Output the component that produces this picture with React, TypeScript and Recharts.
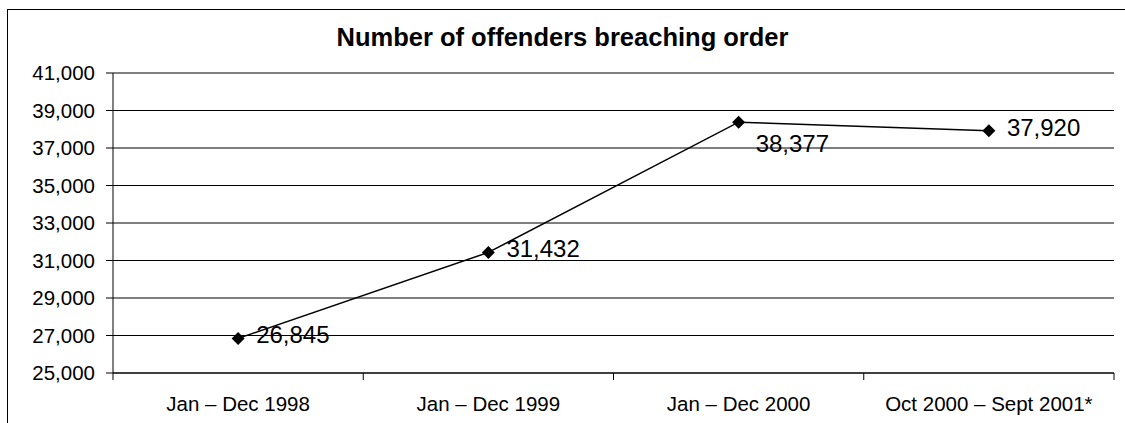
import React from 'react';
import {
  LineChart,
  Line,
  XAxis,
  YAxis,
  CartesianGrid,
  ReferenceLine,
  LabelList,
} from 'recharts';

const periods = ['Jan – Dec 1998', 'Jan – Dec 1999', 'Jan – Dec 2000', 'Oct 2000 – Sept 2001*'];
const offenders = [26845, 31432, 38377, 37920];
const yTicks = [25000, 27000, 29000, 31000, 33000, 35000, 37000, 39000, 41000];

const data = periods.map((p, i) => ({ period: p, value: offenders[i] }));

const FONT = '"Liberation Sans", Arial, sans-serif';
const fmt = (v: number) => v.toLocaleString('en-US');

// black diamond marker, like the old Excel default
const Diamond = (props: any) => {
  const { cx, cy } = props;
  if (cx == null || cy == null) return null;
  const r = 6.5;
  return (
    <polygon
      points={`${cx},${cy - r} ${cx + r},${cy} ${cx},${cy + r} ${cx - r},${cy}`}
      fill="#000"
      stroke="none"
    />
  );
};

// labels sit to the right of each point; the 2000 one drops under the line
const ValueLabel = (props: any) => {
  const { x, y, value, index } = props;
  const below = index === 2;
  return (
    <text
      x={x + (below ? 17 : 18)}
      y={y + (below ? 30 : 5)}
      fontSize={24}
      fontFamily={FONT}
      fill="#000"
    >
      {fmt(value)}
    </text>
  );
};

// category label centred in its band, tick marks on the band edges
const CatTick = (props: any) => {
  const { x, y, payload, visibleTicksCount } = props;
  const half = payload.offset || 0;
  const last = payload.index === visibleTicksCount - 1;
  return (
    <g>
      <line x1={x - half} x2={x - half} y1={y} y2={y + 7} stroke="#000" />
      {last && <line x1={x + half} x2={x + half} y1={y} y2={y + 7} stroke="#000" />}
      <text x={x} y={y + 38} textAnchor="middle" fontSize={20.5} fontFamily={FONT} fill="#000">
        {payload.value}
      </text>
    </g>
  );
};

export default function App() {
  return (
    <div style={{ position: 'absolute', left: 0, top: 0, width: 1125, height: 423, overflow: 'hidden', background: '#fff', fontFamily: FONT }}>
      <div
        style={{
          position: 'absolute',
          left: 7,
          top: 9,
          width: 1140,
          height: 440,
          border: '1px solid #000',
          boxSizing: 'border-box',
        }}
      />
      <div
        style={{
          position: 'absolute',
          left: 0,
          top: 24,
          width: 1125,
          textAlign: 'center',
          fontSize: 25.5,
          lineHeight: '26px',
          fontWeight: 'bold',
          color: '#000',
        }}
      >
        Number of offenders breaching order
      </div>
      <div style={{ position: 'absolute', left: 0, top: 0 }}>
        <LineChart
          width={1125}
          height={423}
          data={data}
          margin={{ top: 73, right: 11, left: 0, bottom: 0 }}
        >
          <CartesianGrid vertical={false} stroke="#000" strokeWidth={1} />
          <XAxis
            dataKey="period"
            scale="band"
            height={50}
            tickSize={0}
            tickMargin={0}
            tickLine={false}
            axisLine={{ stroke: '#000' }}
            interval={0}
            tick={<CatTick />}
          />
          <YAxis
            domain={[25000, 41000]}
            ticks={yTicks}
            width={113}
            tickSize={7}
            tickMargin={11}
            tickFormatter={fmt}
            tickLine={{ stroke: '#000' }}
            axisLine={{ stroke: '#000' }}
            tick={{ fontSize: 20.5, fill: '#000', fontFamily: FONT }}
            interval={0}
          />
          <YAxis
            yAxisId="frame"
            orientation="right"
            width={0}
            tick={false}
            tickLine={false}
            axisLine={{ stroke: '#808080' }}
          />
          <ReferenceLine y={41000} stroke="#808080" strokeWidth={1} />
          <Line
            type="linear"
            dataKey="value"
            stroke="#000"
            strokeWidth={1.5}
            dot={<Diamond />}
            activeDot={false}
            isAnimationActive={false}
          >
            <LabelList dataKey="value" content={<ValueLabel />} />
          </Line>
        </LineChart>
      </div>
    </div>
  );
}
